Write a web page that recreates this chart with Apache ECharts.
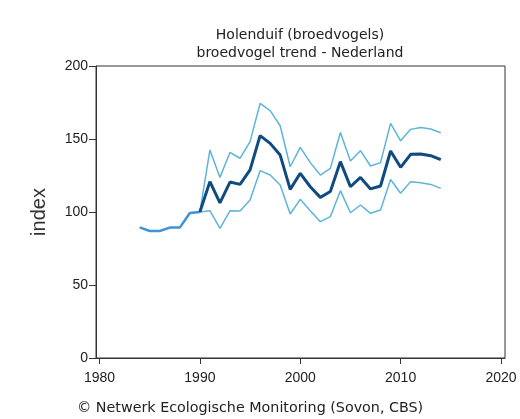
<!DOCTYPE html>
<html><head><meta charset="utf-8">
<script src="https://cdn.jsdelivr.net/npm/echarts@6/dist/echarts.min.js"></script>
<style>html,body{margin:0;padding:0;background:#fff}#c{width:520px;height:419px}</style>
</head><body><div id="c"></div>
<script>
var earlyYears = [1984,1985,1986,1987,1988,1989,1990];
var earlyIndex = [89.5,87,87,89.3,89.3,99.3,100];
var trendYears = [1990,1991,1992,1993,1994,1995,1996,1997,1998,1999,2000,2001,2002,2003,2004,2005,2006,2007,2008,2009,2010,2011,2012,2013,2014];
var trendIndex = [100,120.8,106.2,120.5,118.9,128.8,152.3,147,139,115.5,126.5,117.3,110,114,134.5,117.3,123.7,115.8,117.8,141.8,130.6,139.5,139.7,138.6,135.8];
var upperIndex = [100,142.5,123.7,140.8,136.8,148.2,174.4,169.4,159.1,131,144.3,133.8,125.3,129.9,154.5,134.9,142,131.5,133.8,160.7,148.8,156.6,157.9,156.8,154.3];
var lowerIndex = [100,100.9,88.8,100.8,100.7,108.2,128.3,125.3,118.5,98.6,108.7,100.9,93.4,96.8,114.6,99.5,104.8,99.1,101.4,122.3,112.8,120.8,120.1,118.9,116.2];
var xTicks = [1980,1990,2000,2010,2020];
var yTicks = [0,50,100,150,200];

function pairs(xs, ys){ return xs.map(function(x,i){ return [x, ys[i]]; }); }

var chart = echarts.init(document.getElementById('c'), null, {renderer:'canvas'});
var axisCol = '#333';
chart.setOption({
  animation:false,
  backgroundColor:'#fff',
  title:{
    text:'Holenduif (broedvogels)\nbroedvogel trend - Nederland',
    left:295, top:21, textAlign:'center',
    textStyle:{fontFamily:'DejaVu Sans', fontSize:14, fontWeight:'normal', color:'#222', lineHeight:18}
  },
  graphic:[
    {type:'text', left:77, top:401, style:{text:'\u00a9 Netwerk Ecologische Monitoring (Sovon, CBS)', font:'14.3px "DejaVu Sans"', fill:'#222'}}
  ],
  grid:{left:96, right:15, top:66, bottom:61, show:true, borderColor:axisCol, borderWidth:1, backgroundColor:'transparent'},
  xAxis:{
    type:'value', min:1979.65, max:2020.4,
    splitLine:{show:false},
    axisLine:{show:true, lineStyle:{color:axisCol, width:1}},
    axisTick:{show:true, length:6, inside:false, customValues:xTicks, lineStyle:{color:axisCol}},
    axisLabel:{customValues:xTicks, fontFamily:'Liberation Sans', fontSize:14, color:'#222', margin:13, formatter:function(v){return String(Math.round(v));}}
  },
  yAxis:{
    type:'value', min:0, max:200, interval:50,
    name:'index', nameLocation:'middle', nameGap:47, nameRotate:90,
    nameTextStyle:{fontFamily:'Liberation Sans', fontSize:20, color:'#333'},
    splitLine:{show:false},
    axisLine:{show:true, lineStyle:{color:axisCol, width:1}},
    axisTick:{show:true, length:7, lineStyle:{color:axisCol}},
    axisLabel:{customValues:yTicks, fontFamily:'Liberation Sans', fontSize:14, color:'#222', margin:8}
  },
  series:[
    {type:'line', data:pairs(earlyYears, earlyIndex), showSymbol:false, lineStyle:{color:'#3f93d6', width:2.5}, z:3},
    {type:'line', data:pairs(trendYears, upperIndex), showSymbol:false, lineStyle:{color:'#5cb5d8', width:1.5}, z:2},
    {type:'line', data:pairs(trendYears, lowerIndex), showSymbol:false, lineStyle:{color:'#5cb5d8', width:1.5}, z:2},
    {type:'line', data:pairs(trendYears, trendIndex), showSymbol:false, lineStyle:{color:'#0f4b80', width:3}, z:4}
  ]
});
</script>
</body></html>
